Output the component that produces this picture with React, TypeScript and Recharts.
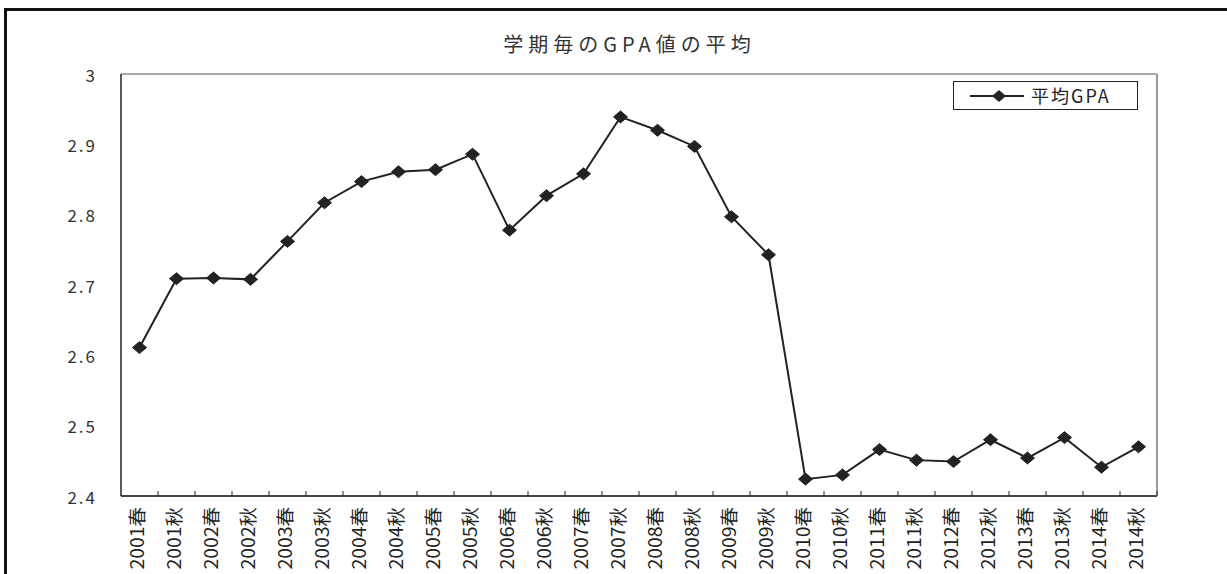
import React from 'react';
import { LineChart, Line, XAxis, YAxis, CartesianGrid, Legend } from 'recharts';

const categories = [
  '2001春', '2001秋', '2002春', '2002秋', '2003春', '2003秋', '2004春', '2004秋',
  '2005春', '2005秋', '2006春', '2006秋', '2007春', '2007秋', '2008春', '2008秋',
  '2009春', '2009秋', '2010春', '2010秋', '2011春', '2011秋', '2012春', '2012秋',
  '2013春', '2013秋', '2014春', '2014秋',
];
const gpaValues = [
  2.611, 2.709, 2.710, 2.708, 2.762, 2.817, 2.847, 2.861,
  2.864, 2.886, 2.778, 2.827, 2.858, 2.939, 2.920, 2.897,
  2.797, 2.743, 2.424, 2.430, 2.466, 2.451, 2.449, 2.480,
  2.454, 2.483, 2.441, 2.470,
];
const yTicks = [2.4, 2.5, 2.6, 2.7, 2.8, 2.9, 3];
const seriesName = '平均GPA';
const title = '学期毎のGPA値の平均';

const data = categories.map((c, i) => ({ term: c, gpa: gpaValues[i] }));

const FONT = '"Noto Sans CJK JP", "Noto Sans", sans-serif';
const W = 1227;
const H = 574;
const PLOT_LEFT = 121;
const PLOT_RIGHT = 1157;
const STEP = (PLOT_RIGHT - PLOT_LEFT) / categories.length;

const XTick = (props: any) => {
  const { x, y, payload } = props;
  return (
    <g>
      <line x1={x + STEP / 2} y1={y} x2={x + STEP / 2} y2={y - 5} stroke="#222" strokeWidth={1} />
      <text
        x={0}
        y={0}
        transform={`translate(${x - 4}, ${y + 11}) rotate(-90) scale(1.08, 1)`}
        textAnchor="end"
        dominantBaseline="central"
        fontSize={18}
        fontFamily={FONT}
        fill="#222"
      >
        {payload.value}
      </text>
    </g>
  );
};

const YTick = (props: any) => {
  const { x, y, payload } = props;
  const v = payload.value;
  const label = v === 3 ? '3' : v.toFixed(1);
  return (
    <text
      x={x}
      y={y}
      textAnchor="end"
      dominantBaseline="central"
      fontSize={17}
      fontFamily={FONT}
      fill="#333"
      style={{ letterSpacing: '2px' }}
    >
      {label}
    </text>
  );
};

const Diamond = (props: any) => {
  const { cx, cy, index } = props;
  if (cx == null || cy == null) return <g key={`d-${index}`} />;
  return (
    <polygon
      key={`d-${index}`}
      points={`${cx - 7},${cy} ${cx},${cy - 6} ${cx + 7},${cy} ${cx},${cy + 6}`}
      fill="#222"
      stroke="#222"
      strokeWidth={1}
    />
  );
};

const LegendContent = (props: any) => {
  const name = props.payload && props.payload[0] ? props.payload[0].value : seriesName;
  return (
    <div
      style={{
        width: 183,
        height: 27,
        border: '1px solid #222',
        background: '#fff',
        display: 'flex',
        alignItems: 'center',
        boxSizing: 'content-box',
      }}
    >
      <svg width={72} height={27} style={{ display: 'block' }}>
        <line x1={16} y1={14} x2={70} y2={14} stroke="#222" strokeWidth={2} />
        <polygon points="38,14 45,8 52,14 45,20" fill="#222" />
      </svg>
      <span
        style={{
          fontFamily: FONT,
          fontSize: 18,
          color: '#222',
          letterSpacing: '2px',
          marginLeft: 5,
          lineHeight: '27px',
        }}
      >
        {name}
      </span>
    </div>
  );
};

export default function App() {
  return (
    <div style={{ position: 'absolute', left: 0, top: 0, width: W, height: H, background: '#fff', overflow: 'hidden' }}>
      <div
        style={{
          position: 'absolute',
          left: 4,
          top: 8,
          width: W + 10,
          height: H + 10,
          borderLeft: '3px solid #111',
          borderTop: '3px solid #111',
        }}
      />
      <div
        style={{
          position: 'absolute',
          left: 0,
          width: W,
          top: 30,
          textAlign: 'center',
          fontFamily: FONT,
          fontSize: 20,
          color: '#333',
          letterSpacing: '5px',
          lineHeight: '28px',
          paddingLeft: 32,
          boxSizing: 'border-box',
        }}
      >
        {title}
      </div>
      <div style={{ position: 'absolute', left: 0, top: 0 }}>
        <LineChart width={W} height={H} data={data} margin={{ top: 74, right: 0, bottom: 0, left: 0 }}>
          <CartesianGrid horizontal vertical={false} stroke="#555" strokeWidth={1} />
          <XAxis
            dataKey="term"
            interval={0}
            height={78}
            padding={{ left: STEP / 2, right: STEP / 2 }}
            tickSize={0}
            tickMargin={0}
            tickLine={false}
            axisLine={{ stroke: '#222', strokeWidth: 1.5 }}
            tick={<XTick />}
          />
          <YAxis
            yAxisId="left"
            domain={[2.4, 3]}
            ticks={yTicks}
            width={PLOT_LEFT}
            tickSize={0}
            tickMargin={24}
            tickLine={false}
            axisLine={{ stroke: '#222', strokeWidth: 1.5 }}
            tick={<YTick />}
          />
          <YAxis
            yAxisId="right"
            orientation="right"
            domain={[2.4, 3]}
            ticks={yTicks}
            width={W - PLOT_RIGHT}
            tick={false}
            tickLine={false}
            axisLine={{ stroke: '#999', strokeWidth: 2 }}
          />
          <Legend
            layout="vertical"
            align="center"
            verticalAlign="middle"
            content={<LegendContent />}
            wrapperStyle={{ position: 'absolute', left: 953, top: 81, width: 185, height: 29 }}
          />
          <Line
            yAxisId="left"
            type="linear"
            dataKey="gpa"
            name={seriesName}
            stroke="#222"
            strokeWidth={2}
            dot={Diamond}
            activeDot={false}
            isAnimationActive={false}
          />
        </LineChart>
      </div>
    </div>
  );
}
